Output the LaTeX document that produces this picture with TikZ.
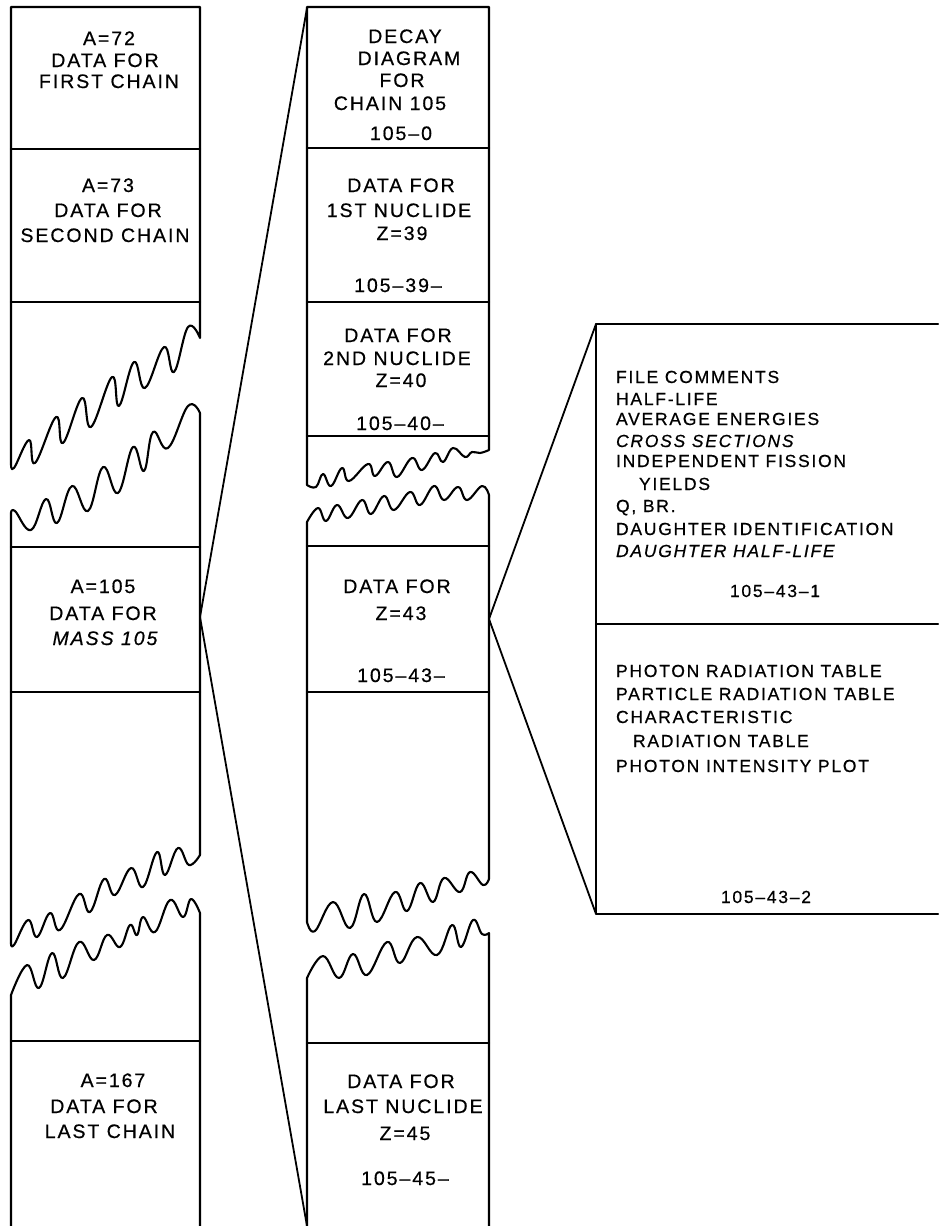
\documentclass[tikz,border=0pt]{standalone}
\usepackage{fontspec}
\setmainfont{Liberation Sans}[LetterSpace=10,FakeBold=0.6]
\begin{document}
\begin{tikzpicture}[x=1pt,y=-1pt,line width=2.1pt,line join=round,line cap=round,
  col/.style={anchor=base,inner sep=0pt,font=\fontsize{19.5}{21}\selectfont},
  rt/.style={anchor=base west,inner sep=0pt,font=\fontsize{17.5}{20}\selectfont},
  rtc/.style={anchor=base,inner sep=0pt,font=\fontsize{17.5}{20}\selectfont},
  wv/.style={smooth,tension=0.7}]
\useasboundingbox (0,0) rectangle (938,1226);
% ---------------- left column ----------------
\draw (200,338) -- (200,7) -- (11,7) -- (11,463)
  -- plot[wv] coordinates {(11,463) (14,468) (29,440) (35,463) (56,417) (63,443) (82,398) (91,427) (112,377) (119,406) (134,362) (145,388) (164,347) (174,372) (188,327) (200,338)};
\draw (11,149) -- (200,149);
\draw (11,302) -- (200,302);
\draw (11,943) -- (11,513)
  -- plot[wv] coordinates {(11,513) (15,511) (31,530) (46,499) (57,523) (72,486) (88,511) (103,467) (118,493) (133,447) (144,471) (153,432) (168,448) (188,406) (200,413)}
  -- (200,855);
\draw plot[wv] coordinates {(11,943) (14,945) (28,920) (37,937) (50,913) (60,930) (79,894) (90,912) (104,879) (115,895) (131,868) (143,887) (157,852) (165,875) (178,848) (189,865) (200,855)};
\draw (11,547) -- (200,547);
\draw (11,692) -- (200,692);
\draw (11,1226) -- (11,995)
  -- plot[wv] coordinates {(11,995) (27,965) (39,988) (52,953) (63,978) (79,942) (94,960) (107,935) (120,947) (130,925) (137,935) (143,917) (155,932) (170,900) (183,917) (191,899) (200,913)}
  -- (200,1226);
\draw (11,1041) -- (200,1041);
% ---------------- middle column ----------------
\draw (489,450) -- (489,7) -- (307,7) -- (307,485)
  -- plot[wv] coordinates {(307,485) (316,487) (323,474) (331,486) (342,468) (349,481) (368,464) (375,476) (388,462) (397,477) (412,458) (422,470) (435,453) (443,462) (453,448) (465,457) (472,452) (480,453) (489,450)};
\draw (307,148) -- (489,148);
\draw (307,302) -- (489,302);
\draw (307,436) -- (489,436);
\draw (307,922) -- (307,522)
  -- plot[wv] coordinates {(307,522) (318,508) (326,521) (337,505) (348,518) (362,500) (371,514) (384,496) (394,510) (410,492) (420,505) (434,486) (444,500) (458,487) (467,500) (482,486) (489,495)}
  -- (489,879);
\draw plot[wv] coordinates {(307,922) (315,931) (333,902) (350,928) (364,894) (377,922) (395,892) (407,911) (420,883) (433,902) (444,878) (460,892) (470,872) (483,885) (489,879)};
\draw (307,546) -- (489,546);
\draw (307,692) -- (489,692);
\draw (307,1226) -- (307,978)
  -- plot[wv] coordinates {(307,978) (323,956) (339,978) (353,954) (367,975) (387,942) (400,963) (417,937) (437,955) (452,925) (461,947) (473,920) (482,934) (489,933)}
  -- (489,1226);
\draw (307,1043) -- (489,1043);
% ---------------- right box ----------------
\draw (938,324) -- (596,324) -- (596,914) -- (938,914);
\draw (596,624) -- (938,624);
% ---------------- fan connectors ----------------
\coordinate (lv) at (200,617);
\coordinate (mt) at (307,8);
\coordinate (mb) at (307,1226);
\coordinate (mv) at (489,619);
\coordinate (rtop) at (596,324);
\coordinate (rbot) at (596,914);
\draw[line width=1.8pt] (mt) -- (lv) -- (mb);
\draw[line width=1.8pt] (rtop) -- (mv) -- (rbot);
% ---------------- left texts ----------------
\node[col] (a72) at (109,45) {A=72};
\node[col] (a72b) at (105,67) {DATA FOR};
\node[col] (a72c) at (109,88) {FIRST CHAIN};
\node[col] (a73) at (108,192) {A=73};
\node[col] (a73b) at (108,217) {DATA FOR};
\node[col] (a73c) at (105,242) {SECOND CHAIN};
\node[col] (a105) at (103,593) {A=105};
\node[col] (a105b) at (103,620) {DATA FOR};
\node[col] (a105c) at (105,645) {\itshape MASS 105};
\node[col] (a167) at (113,1087) {A=167};
\node[col] (a167b) at (104,1113) {DATA FOR};
\node[col] (a167c) at (110,1138) {LAST CHAIN};
% ---------------- middle texts ----------------
\node[col] (d1) at (405,43) {DECAY};
\node[col] (d2) at (409,65) {DIAGRAM};
\node[col] (d3) at (402,87) {FOR};
\node[col] (d4) at (390,110) {CHAIN 105};
\node[col] (d5) at (401,140) {105–0};
\node[col] (n1a) at (401,192) {DATA FOR};
\node[col] (n1b) at (399,217) {1ST NUCLIDE};
\node[col] (n1c) at (402,240) {Z=39};
\node[col] (n1d) at (398,292) {105–39–};
\node[col] (n2a) at (398,342) {DATA FOR};
\node[col] (n2b) at (397,365) {2ND NUCLIDE};
\node[col] (n2c) at (401,387) {Z=40};
\node[col] (n2d) at (400,430) {105–40–};
\node[col] (n3a) at (397,593) {DATA FOR};
\node[col] (n3b) at (401,620) {Z=43};
\node[col] (n3c) at (401,682) {105–43–};
\node[col] (n4a) at (401,1088) {DATA FOR};
\node[col] (n4b) at (403,1113) {LAST NUCLIDE};
\node[col] (n4c) at (405,1140) {Z=45};
\node[col] (n4d) at (405,1185) {105–45–};
% ---------------- right texts ----------------
\node[rt] (r1) at (615,383) {FILE COMMENTS};
\node[rt] (r2) at (615,405) {HALF-LIFE};
\node[rt] (r3) at (615,425) {AVERAGE ENERGIES};
\node[rt] (r4) at (615,447) {\itshape CROSS SECTIONS};
\node[rt] (r5) at (615,467) {INDEPENDENT FISSION};
\node[rt] (r6) at (638,490) {YIELDS};
\node[rt] (r7) at (615,512) {Q, BR.};
\node[rt] (r8) at (615,535) {DAUGHTER IDENTIFICATION};
\node[rt] (r9) at (615,557) {\itshape DAUGHTER HALF-LIFE};
\node[rtc] (r10) at (775,597) {105–43–1};
\node[rt] (s1) at (615,677) {PHOTON RADIATION TABLE};
\node[rt] (s2) at (615,700) {PARTICLE RADIATION TABLE};
\node[rt] (s3) at (615,723) {CHARACTERISTIC};
\node[rt] (s4) at (632,747) {RADIATION TABLE};
\node[rt] (s5) at (615,772) {PHOTON INTENSITY PLOT};
\node[rtc] (s6) at (766,903) {105–43–2};
\end{tikzpicture}
\end{document}
